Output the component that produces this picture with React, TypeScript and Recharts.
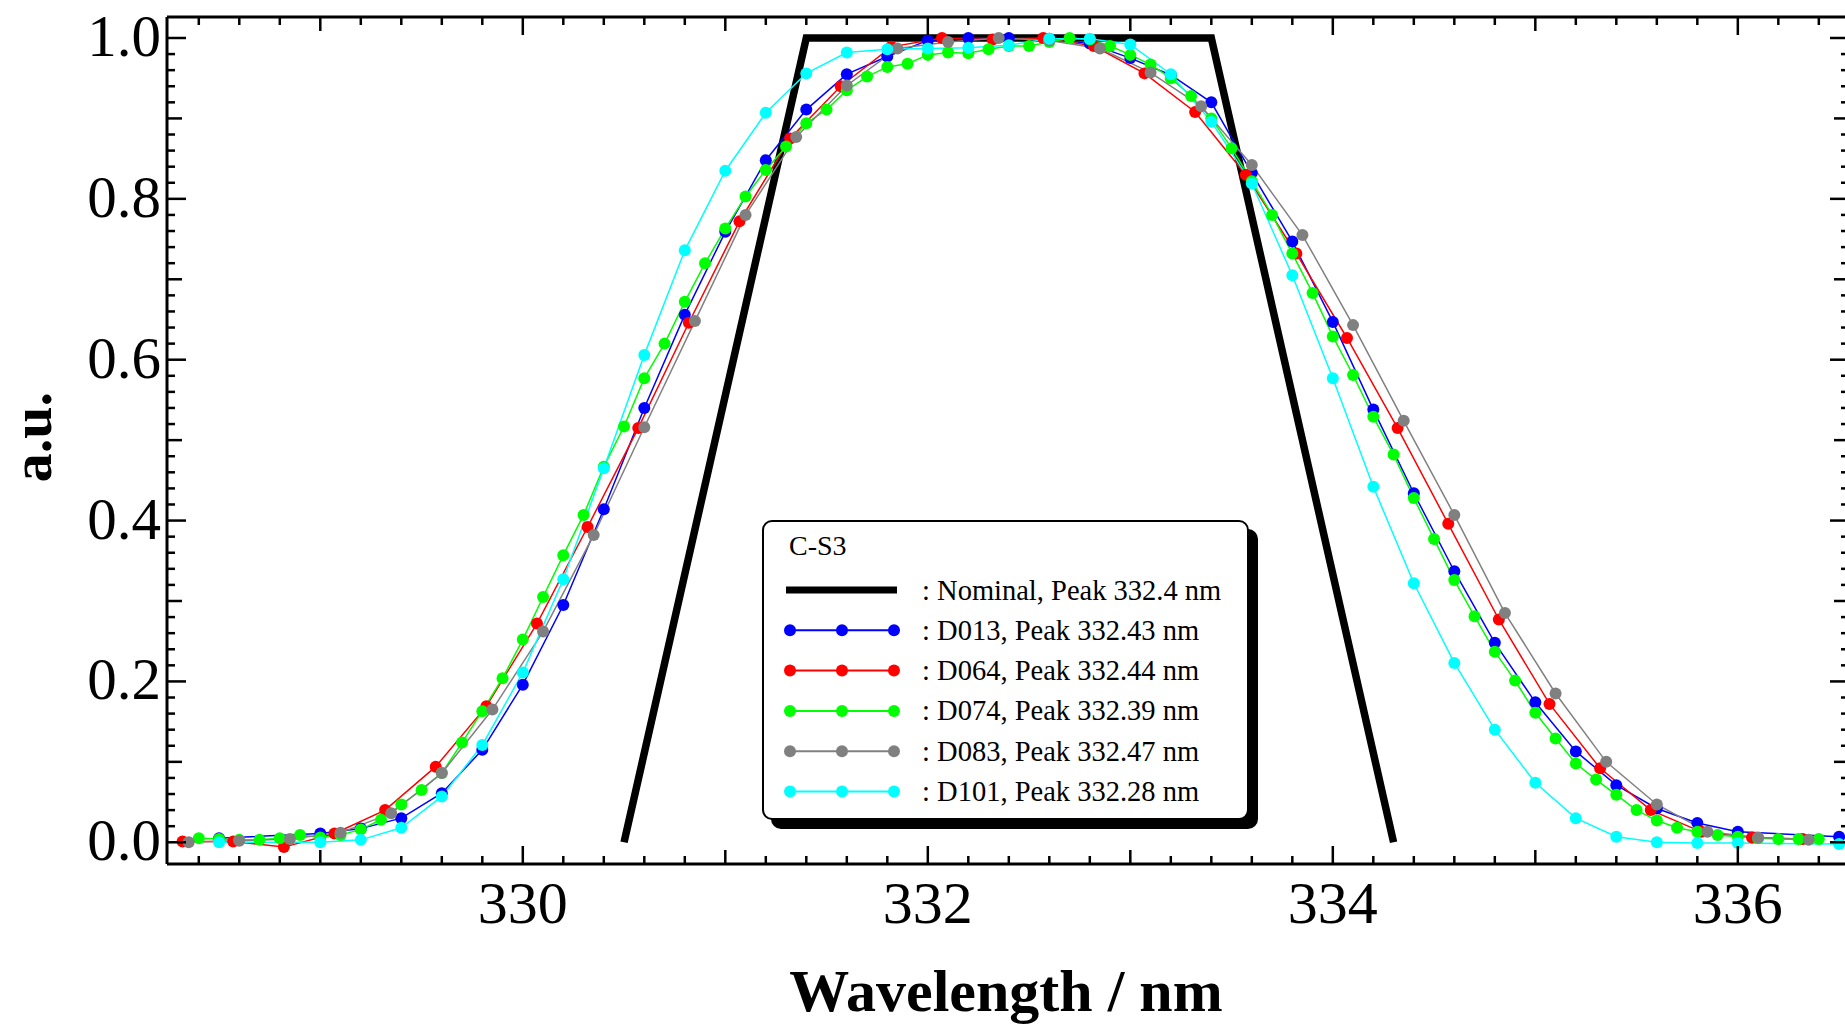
import React from 'react';
import { LineChart, Line, XAxis, YAxis, Legend } from 'recharts';

const SERIF = '"Liberation Serif", "Times New Roman", Times, serif';

// ---------- data ----------
const nominal: [number, number][] = [
  [330.5, 0], [331.4, 1], [333.4, 1], [334.3, 0],
];

const d013: [number, number][] = [
  [328.5, 0.005], [329.0, 0.011], [329.2, 0.017], [329.4, 0.03], [329.6, 0.061],
  [329.8, 0.115], [330.0, 0.196], [330.2, 0.295], [330.4, 0.414], [330.6, 0.54],
  [330.8, 0.656], [331.0, 0.759], [331.2, 0.848], [331.4, 0.911], [331.6, 0.955],
  [331.8, 0.977], [332.0, 0.997], [332.2, 1.0], [332.4, 1.0], [332.6, 0.999],
  [332.8, 0.993], [333.0, 0.975], [333.2, 0.954], [333.4, 0.92], [333.6, 0.832],
  [333.8, 0.747], [334.0, 0.647], [334.2, 0.538], [334.4, 0.434], [334.6, 0.337],
  [334.8, 0.248], [335.0, 0.174], [335.2, 0.113], [335.4, 0.071], [335.6, 0.042],
  [335.8, 0.024], [336.0, 0.013], [336.5, 0.007],
];

const d064: [number, number][] = [
  [328.32, 0.001], [328.57, 0.001], [328.82, -0.006], [329.07, 0.011], [329.32, 0.04],
  [329.57, 0.094], [329.82, 0.169], [330.07, 0.272], [330.32, 0.392], [330.57, 0.515],
  [330.82, 0.646], [331.07, 0.772], [331.32, 0.875], [331.57, 0.94], [331.82, 0.989],
  [332.07, 1.0], [332.32, 0.998], [332.57, 1.0], [332.82, 0.99], [333.07, 0.956],
  [333.32, 0.908], [333.57, 0.83], [333.82, 0.732], [334.07, 0.627], [334.32, 0.515],
  [334.57, 0.396], [334.82, 0.277], [335.07, 0.172], [335.32, 0.092], [335.57, 0.04],
  [335.82, 0.013], [336.07, 0.006], [336.32, 0.004],
];

const d074: [number, number][] = [
  [328.4, 0.005], [328.5, 0.004], [328.6, 0.003], [328.7, 0.003], [328.8, 0.005],
  [328.9, 0.009], [329.0, 0.006], [329.1, 0.009], [329.2, 0.016], [329.3, 0.028],
  [329.4, 0.047], [329.5, 0.065], [329.6, 0.086], [329.7, 0.124], [329.8, 0.163],
  [329.9, 0.204], [330.0, 0.252], [330.1, 0.305], [330.2, 0.357], [330.3, 0.407],
  [330.4, 0.467], [330.5, 0.517], [330.6, 0.577], [330.7, 0.62], [330.8, 0.672],
  [330.9, 0.72], [331.0, 0.763], [331.1, 0.803], [331.2, 0.836], [331.3, 0.865],
  [331.4, 0.894], [331.5, 0.911], [331.6, 0.935], [331.7, 0.952], [331.8, 0.964],
  [331.9, 0.968], [332.0, 0.979], [332.1, 0.982], [332.2, 0.981], [332.3, 0.986],
  [332.4, 0.99], [332.5, 0.99], [332.6, 0.995], [332.7, 1.0], [332.8, 0.998],
  [332.9, 0.99], [333.0, 0.979], [333.1, 0.967], [333.2, 0.95], [333.3, 0.928],
  [333.4, 0.9], [333.5, 0.863], [333.6, 0.822], [333.7, 0.78], [333.8, 0.732],
  [333.9, 0.683], [334.0, 0.629], [334.1, 0.581], [334.2, 0.529], [334.3, 0.482],
  [334.4, 0.428], [334.5, 0.377], [334.6, 0.326], [334.7, 0.281], [334.8, 0.237],
  [334.9, 0.201], [335.0, 0.161], [335.1, 0.129], [335.2, 0.098], [335.3, 0.078],
  [335.4, 0.059], [335.5, 0.04], [335.6, 0.027], [335.7, 0.018], [335.8, 0.013],
  [335.9, 0.009], [336.0, 0.007], [336.1, 0.005], [336.2, 0.004], [336.3, 0.004],
  [336.4, 0.004],
];

const d083: [number, number][] = [
  [328.35, 0.0], [328.6, 0.002], [328.85, 0.004], [329.1, 0.012], [329.35, 0.036],
  [329.6, 0.086], [329.85, 0.165], [330.1, 0.262], [330.35, 0.382], [330.6, 0.516],
  [330.85, 0.648], [331.1, 0.78], [331.35, 0.877], [331.6, 0.941], [331.85, 0.987],
  [332.1, 0.995], [332.35, 1.0], [332.6, 0.997], [332.85, 0.987], [333.1, 0.957],
  [333.35, 0.915], [333.6, 0.842], [333.85, 0.755], [334.1, 0.643], [334.35, 0.524],
  [334.6, 0.407], [334.85, 0.285], [335.1, 0.185], [335.35, 0.1], [335.6, 0.047],
  [335.85, 0.013], [336.1, 0.006], [336.35, 0.003],
];

const d101: [number, number][] = [
  [328.5, 0.0], [329.0, 0.0], [329.2, 0.003], [329.4, 0.018], [329.6, 0.057],
  [329.8, 0.121], [330.0, 0.211], [330.2, 0.327], [330.4, 0.465], [330.6, 0.606],
  [330.8, 0.736], [331.0, 0.835], [331.2, 0.907], [331.4, 0.956], [331.6, 0.982],
  [331.8, 0.986], [332.0, 0.987], [332.2, 0.988], [332.4, 0.991], [332.6, 0.999],
  [332.8, 0.999], [333.0, 0.992], [333.2, 0.955], [333.4, 0.896], [333.6, 0.819],
  [333.8, 0.705], [334.0, 0.577], [334.2, 0.442], [334.4, 0.322], [334.6, 0.223],
  [334.8, 0.14], [335.0, 0.074], [335.2, 0.03], [335.4, 0.007], [335.6, 0.0],
  [335.8, -0.001], [336.0, -0.001], [336.5, -0.002],
];

const xLabelValues = [330, 332, 334, 336];
const yLabelValues = [0, 0.2, 0.4, 0.6, 0.8, 1.0];
const legendTitle = 'C-S3';

const seriesList = [
  { key: 'D013', label: ': D013, Peak 332.43 nm', color: '#0000FF', pts: d013 },
  { key: 'D064', label: ': D064, Peak 332.44 nm', color: '#FF0000', pts: d064 },
  { key: 'D074', label: ': D074, Peak 332.39 nm', color: '#00FF00', pts: d074 },
  { key: 'D083', label: ': D083, Peak 332.47 nm', color: '#808080', pts: d083 },
  { key: 'D101', label: ': D101, Peak 332.28 nm', color: '#00FFFF', pts: d101 },
];
const nominalLabel = ': Nominal, Peak 332.4 nm';

const toRows = (pts: [number, number][]) => pts.map(([x, y]) => ({ x, y }));

// ---------- ticks ----------
const xTicks: number[] = [];
for (let i = 0; i <= 40; i++) xTicks.push(Math.round((328.4 + 0.2 * i) * 10) / 10);
const yTicks: number[] = [];
for (let i = 0; i <= 50; i++) yTicks.push(Math.round(0.02 * i * 100) / 100);

const X_DOMAIN: [number, number] = [328.243, 336.549];
const Y_DOMAIN: [number, number] = [-0.027, 1.0261];

const xTickLen = (v: number) => {
  const r = Math.round(v);
  if (Math.abs(v - r) < 1e-6) return xLabelValues.includes(r) ? 18 : 14;
  return 8;
};
const yTickLen = (v: number) => {
  if (Math.abs(v * 5 - Math.round(v * 5)) < 1e-6) return 19;
  if (Math.abs(v * 10 - Math.round(v * 10)) < 1e-6) return 15;
  return 8;
};
const isXLabel = (v: number) => Math.abs(v - Math.round(v)) < 1e-6 && xLabelValues.includes(Math.round(v));
const isYLabel = (v: number) => yLabelValues.some((l) => Math.abs(l - v) < 1e-6);

const TW = 2.5;

const XBottomTick = (p: any) => {
  const { x, y, payload } = p;
  const v = payload.value;
  return (
    <g>
      <line x1={x} x2={x} y1={y} y2={y - xTickLen(v)} stroke="#000" strokeWidth={TW} />
      {isXLabel(v) && (
        <text x={x} y={y + 59} textAnchor="middle" fontFamily={SERIF} fontSize={60} fill="#000">
          {Math.round(v)}
        </text>
      )}
    </g>
  );
};
const XTopTick = (p: any) => {
  const { x, y, payload } = p;
  return <line x1={x} x2={x} y1={y} y2={y + xTickLen(payload.value)} stroke="#000" strokeWidth={TW} />;
};
const YLeftTick = (p: any) => {
  const { x, y, payload } = p;
  const v = payload.value;
  return (
    <g>
      <line x1={x} x2={x + yTickLen(v)} y1={y} y2={y} stroke="#000" strokeWidth={TW} />
      {isYLabel(v) && (
        <text x={x - 6} y={y + 18} textAnchor="end" fontFamily={SERIF} fontSize={59} fill="#000">
          {v.toFixed(1)}
        </text>
      )}
    </g>
  );
};
const YRightTick = (p: any) => {
  const { x, y, payload } = p;
  return <line x1={x} x2={x - yTickLen(payload.value)} y1={y} y2={y} stroke="#000" strokeWidth={TW} />;
};

const XTitle = () => (
  <text x={1006} y={1011} textAnchor="middle" fontFamily={SERIF} fontWeight="bold" fontSize={60} fill="#000">
    Wavelength / nm
  </text>
);
const YTitle = () => (
  <text x={51} y={437} transform="rotate(-90 51 437)" textAnchor="middle" fontFamily={SERIF} fontWeight="bold" fontSize={58} fill="#000">
    a.u.
  </text>
);

const LegendBox = () => {
  const rowY = (i: number) => 68 + 40.3 * i;
  return (
    <div
      style={{
        position: 'relative',
        width: 487,
        height: 300,
        boxSizing: 'border-box',
        border: '2.5px solid #000',
        borderRadius: 10,
        background: '#fff',
        boxShadow: '9px 9px 0 #000',
      }}
    >
      <svg width={482} height={295} style={{ position: 'absolute', left: 0, top: 0 }}>
        <text x={25} y={33} fontFamily={SERIF} fontSize={28} fill="#000">{legendTitle}</text>
        <line x1={22} x2={133} y1={rowY(0)} y2={rowY(0)} stroke="#000" strokeWidth={7} />
        <text x={158} y={rowY(0) + 9.5} fontFamily={SERIF} fontSize={28.5} fill="#000">{nominalLabel}</text>
        {seriesList.map((s, i) => {
          const cy = rowY(i + 1);
          return (
            <g key={s.key}>
              <line x1={26} x2={130} y1={cy} y2={cy} stroke={s.color} strokeWidth={2} />
              {[26, 78, 130].map((cx) => (
                <circle key={cx} cx={cx} cy={cy} r={6} fill={s.color} />
              ))}
              <text x={158} y={cy + 9.5} fontFamily={SERIF} fontSize={28.5} fill="#000">{s.label}</text>
            </g>
          );
        })}
      </svg>
    </div>
  );
};

export default function App() {
  return (
    <div style={{ position: 'absolute', left: 0, top: 0, width: 1845, height: 1025, overflow: 'hidden', background: '#fff' }}>
      <LineChart width={1850} height={1025} margin={{ top: 0, right: 0, bottom: 0, left: 0 }}>
        <XAxis
          xAxisId="b"
          type="number"
          dataKey="x"
          domain={X_DOMAIN}
          allowDataOverflow
          ticks={xTicks}
          interval={0}
          height={161}
          tickSize={0}
          tickMargin={0}
          tickLine={false}
          axisLine={{ stroke: '#000', strokeWidth: 3 }}
          tick={(p: any) => <XBottomTick {...p} />}
          label={() => <XTitle />}
        />
        <XAxis
          xAxisId="t"
          orientation="top"
          type="number"
          dataKey="x"
          domain={X_DOMAIN}
          allowDataOverflow
          ticks={xTicks}
          interval={0}
          height={17}
          tickSize={0}
          tickMargin={0}
          tickLine={false}
          axisLine={{ stroke: '#000', strokeWidth: 3 }}
          tick={(p: any) => <XTopTick {...p} />}
        />
        <YAxis
          yAxisId="l"
          type="number"
          domain={Y_DOMAIN}
          allowDataOverflow
          ticks={yTicks}
          interval={0}
          width={167}
          tickSize={0}
          tickMargin={0}
          tickLine={false}
          axisLine={{ stroke: '#000', strokeWidth: 3 }}
          tick={(p: any) => <YLeftTick {...p} />}
          label={() => <YTitle />}
        />
        <YAxis
          yAxisId="r"
          orientation="right"
          type="number"
          domain={Y_DOMAIN}
          allowDataOverflow
          ticks={yTicks}
          interval={0}
          width={1}
          tickSize={0}
          tickMargin={0}
          tickLine={false}
          axisLine={{ stroke: '#000', strokeWidth: 3 }}
          tick={(p: any) => <YRightTick {...p} />}
        />
        <Line
          xAxisId="b"
          yAxisId="l"
          data={toRows(nominal)}
          dataKey="y"
          type="linear"
          stroke="#000"
          strokeWidth={7.5}
          strokeLinejoin="miter"
          dot={false}
          activeDot={false}
          isAnimationActive={false}
        />
        {seriesList.map((s) => (
          <Line
            key={s.key}
            xAxisId="b"
            yAxisId="l"
            data={toRows(s.pts)}
            dataKey="y"
            name={s.key}
            type="linear"
            stroke={s.color}
            strokeWidth={1.5}
            dot={{ r: 6, fill: s.color, stroke: 'none' }}
            activeDot={false}
            isAnimationActive={false}
          />
        ))}
        <Legend
          layout="horizontal"
          verticalAlign="middle"
          align="center"
          wrapperStyle={{ position: 'absolute', left: 762, top: 520, width: 487, height: 300, margin: 0, padding: 0 }}
          content={() => <LegendBox />}
        />
      </LineChart>
    </div>
  );
}
